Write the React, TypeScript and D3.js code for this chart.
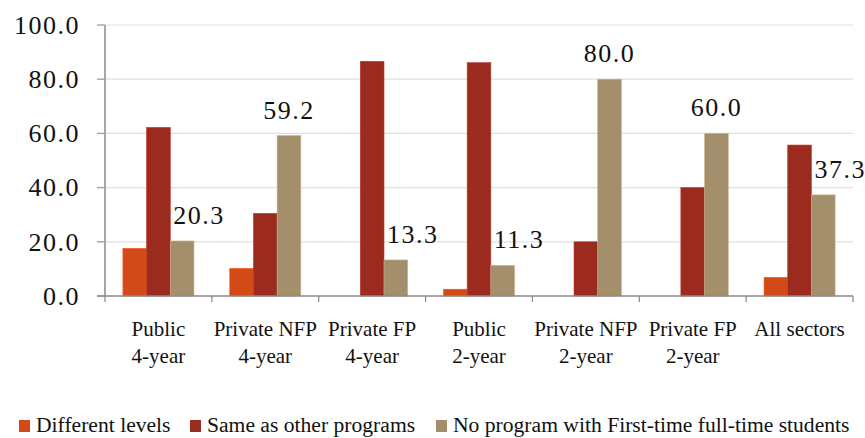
import React from 'react';
import * as d3 from 'd3';

const categories = [
  ['Public', '4-year'],
  ['Private NFP', '4-year'],
  ['Private FP', '4-year'],
  ['Public', '2-year'],
  ['Private NFP', '2-year'],
  ['Private FP', '2-year'],
  ['All sectors'],
];
const seriesNames = ['Different levels', 'Same as other programs', 'No program with First-time full-time students'];
const differentLevels = [17.6, 10.2, 0, 2.5, 0, 0, 6.9];
const sameAsOther = [62.2, 30.5, 86.6, 86.1, 20.0, 40.0, 55.7];
const noProgram = [20.3, 59.2, 13.3, 11.3, 80.0, 60.0, 37.3];
const yTicks = [0, 20, 40, 60, 80, 100];

const colors = ['#d24a17', '#9b2b1f', '#a38f6b'];
const font = "'Liberation Serif'";

const width = 865;
const height = 438;
const margin = { top: 25, right: 12, bottom: 142, left: 105 };
const innerW = width - margin.left - margin.right;
const innerH = height - margin.top - margin.bottom;

const App = () => {
  const idx = categories.map((_, i) => i);
  const x0 = d3.scaleBand<number>().domain(idx).range([0, innerW]).paddingInner(0.335).paddingOuter(0.1675);
  const x1 = d3.scaleBand<number>().domain([0, 1, 2]).range([0, x0.bandwidth()]);
  const y = d3.scaleLinear().domain([0, 100]).range([innerH, 0]);
  const step = innerW / categories.length;
  const series = [differentLevels, sameAsOther, noProgram];

  const legendX = [19, 190, 436];

  return (
    <svg width={width} height={height} style={{ position: 'absolute', left: 0, top: 0, display: 'block' }}>
      <rect width={width} height={height} fill="#ffffff" />
      <g transform={`translate(${margin.left},${margin.top})`}>
        {/* gridlines */}
        {yTicks.filter(t => t > 0).map(t => (
          <line key={t} x1={0} x2={innerW} y1={y(t)} y2={y(t)} stroke="#e0e0e0" strokeWidth={1.2} />
        ))}

        {/* bars */}
        {series.map((vals, s) =>
          vals.map((v, i) =>
            v > 0 ? (
              <rect
                key={`${s}-${i}`}
                x={x0(i)! + x1(s)!}
                y={y(v)}
                width={x1.bandwidth()}
                height={innerH - y(v)}
                fill={colors[s]}
                stroke={d3.color(colors[s])!.brighter(0.6).toString()}
                strokeWidth={0.6}
              />
            ) : null
          )
        )}

        {/* data labels for last series */}
        {noProgram.map((v, i) => {
          const bx = x0(i)! + x1(2)!;
          const shifted = sameAsOther[i] > v;
          return (
            <text
              key={i}
              x={shifted ? bx + 3 : bx + x1.bandwidth() / 2}
              y={y(v) - 17}
              textAnchor={shifted ? 'start' : 'middle'}
              fontSize={26}
              letterSpacing={1.5}
              fill="#111"
              style={{ fontFamily: font }}
            >
              {v.toFixed(1)}
            </text>
          );
        })}

        {/* y axis */}
        <line x1={0} x2={0} y1={y(100)} y2={innerH} stroke="#888" strokeWidth={1.5} />
        {yTicks.map(t => (
          <g key={t} transform={`translate(0,${y(t)})`}>
            <line x1={-8} x2={0} stroke="#aaa" strokeWidth={1.5} />
            <text x={-25} dy="0.34em" textAnchor="end" fontSize={26} letterSpacing={1.5} fill="#111" style={{ fontFamily: font }}>
              {t.toFixed(1)}
            </text>
          </g>
        ))}

        {/* x axis */}
        <g transform={`translate(0,${innerH})`}>
          <line x1={-8} x2={innerW} stroke="#888" strokeWidth={1.5} />
          {d3.range(categories.length + 1).map(k => (
            <line key={k} x1={k * step} x2={k * step} y1={0} y2={6} stroke="#888" strokeWidth={1.2} />
          ))}
          {categories.map((c, i) => (
            <text
              key={i}
              transform={`translate(${x0(i)! + x0.bandwidth() / 2},0)`}
              textAnchor="middle"
              fontSize={21}
              fill="#111"
              style={{ fontFamily: font }}
            >
              {c.map((line, k) => (
                <tspan key={k} x={0} y={40 + k * 27}>
                  {line}
                </tspan>
              ))}
            </text>
          ))}
        </g>
      </g>

      {/* legend */}
      {seriesNames.map((name, s) => (
        <g key={name}>
          <rect x={legendX[s]} y={420} width={11} height={12} fill={colors[s]} />
          <text x={legendX[s] + 17} y={432} fontSize={21.6} fill="#111" style={{ fontFamily: font }}>
            {name}
          </text>
        </g>
      ))}
    </svg>
  );
};

export default App;
